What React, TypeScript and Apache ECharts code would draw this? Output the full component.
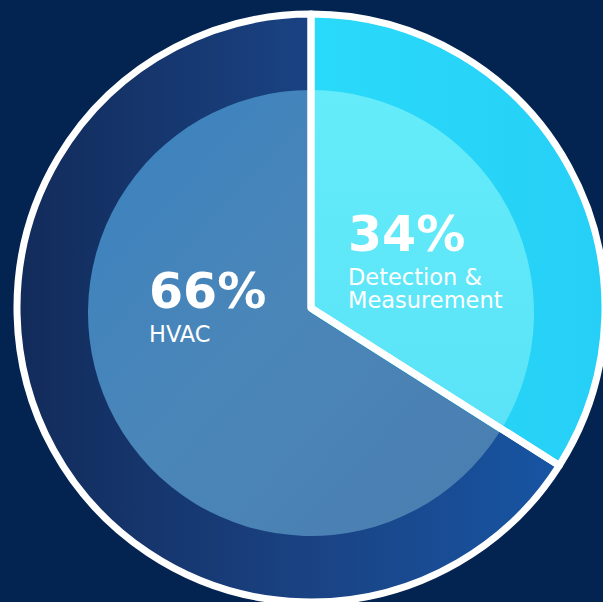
import React, { useEffect, useRef } from "react";
import * as echarts from "echarts";

const categories = ["Detection & Measurement", "HVAC"];
const values = [34, 66];

const outerColors = [
  { type: "linear", x: 0, y: 0, x2: 1, y2: 0, colorStops: [
    { offset: 0, color: "#2adafa" },
    { offset: 1, color: "#26cff6" },
  ] },
  { type: "linear", x: 0, y: 0, x2: 1, y2: 0, colorStops: [
    { offset: 0, color: "#122b5a" },
    { offset: 0.55, color: "#1a4384" },
    { offset: 1, color: "#1755a3" },
  ] },
];
const innerColors = [
  { type: "linear", x: 0, y: 0, x2: 0, y2: 1, colorStops: [
    { offset: 0, color: "#64ecfa" },
    { offset: 1, color: "#5ae3f7" },
  ] },
  { type: "linear", x: 0, y: 0, x2: 1, y2: 1, colorStops: [
    { offset: 0, color: "#3a82c0" },
    { offset: 0.5, color: "#4b86b8" },
    { offset: 1, color: "#4a7db0" },
  ] },
];
// label anchor (top-left) for each category's text block
const labelAnchors = [
  [348, 203],
  [149, 260],
];

export default function App() {
  const ref = useRef<HTMLDivElement>(null);
  useEffect(() => {
    if (!ref.current) return;
    const chart = echarts.init(ref.current, null, { renderer: "svg" });
    const center = [311, 308];
    const innerCenter = [311, 313];
    const mk = (colors: any[]) =>
      categories.map((name, i) => ({ name, value: values[i], itemStyle: { color: colors[i] } }));
    chart.setOption({
      animation: false,
      backgroundColor: "#032351",
      series: [
        {
          type: "pie",
          silent: true,
          center,
          radius: [0, 294],
          startAngle: 90,
          clockwise: true,
          label: { show: false },
          labelLine: { show: false },
          itemStyle: { borderWidth: 0 },
          data: mk(outerColors),
        },
        {
          type: "pie",
          silent: true,
          center: innerCenter,
          radius: [0, 223],
          startAngle: 90,
          clockwise: true,
          label: { show: false },
          labelLine: { show: false },
          itemStyle: { borderWidth: 0 },
          data: mk(innerColors),
        },
        {
          type: "pie",
          silent: true,
          center,
          radius: [0, 294],
          startAngle: 90,
          clockwise: true,
          itemStyle: { color: "rgba(0,0,0,0)", borderColor: "#ffffff", borderWidth: 7 },
          labelLine: { show: false },
          label: {
            show: true,
            position: "inside",
            color: "#ffffff",
            fontFamily: "DejaVu Sans",
            align: "left",
            formatter: (p: any) =>
              "{p|" + Math.round(p.percent) + "%}\n{n|" +
              String(p.name).replace("& ", "&\n").split("\n").join("}\n{n|") + "}",
            rich: {
              p: { fontSize: 49, fontWeight: "bold", lineHeight: 62, color: "#ffffff", fontFamily: "DejaVu Sans", align: "left" },
              n: { fontSize: 22.5, lineHeight: 23.5, color: "#ffffff", fontFamily: "DejaVu Sans", align: "left" },
            },
          },
          labelLayout: (params: any) => ({
            x: labelAnchors[params.dataIndex][0],
            y: labelAnchors[params.dataIndex][1],
            align: "left",
            verticalAlign: "top",
          }),
          data: categories.map((name, i) => ({ name, value: values[i] })),
        },
      ],
    });
    return () => chart.dispose();
  }, []);
  return (
    <div
      ref={ref}
      style={{ position: "fixed", left: 0, top: 0, width: 603, height: 602 }}
    />
  );
}
